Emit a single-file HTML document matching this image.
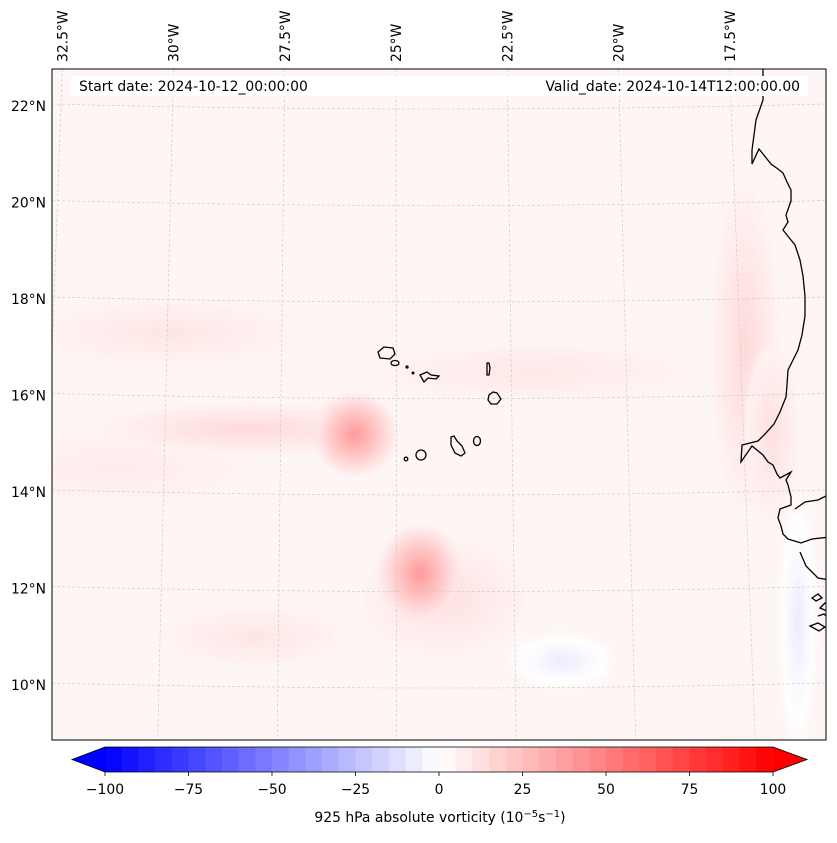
<!DOCTYPE html>
<html><head><meta charset="utf-8">
<style>
html,body{margin:0;padding:0;background:#fff;}
body{width:837px;height:839px;overflow:hidden;font-family:"DejaVu Sans","Liberation Sans",sans-serif;}
svg text{font-family:"DejaVu Sans","Liberation Sans",sans-serif;}
</style></head>
<body>
<svg id="fig" width="837" height="839" viewBox="0 0 837 839" xmlns="http://www.w3.org/2000/svg">
<defs>
  <clipPath id="mapclip"><rect x="52" y="69" width="774" height="671"/></clipPath>
  <filter id="blur3"><feGaussianBlur stdDeviation="2.5"/></filter>
</defs>
<g id="map" clip-path="url(#mapclip)">
  <rect x="52" y="69" width="774" height="671" fill="#fef5f5"/>
  <g id="field"></g>
  <g id="grid"></g>
  <g fill="none" stroke="#000" stroke-width="1.3">
    <path d="M763,69 L763,100 L756,120 L752,150 L752,164 L759,149 L771,164 L778,169 L783,173 L787,182 L791,190 L791,201 L786,215 L788,222 L783,230 L795,245 L800,260 L803,276 L805,296 L805,316 L802,335 L798,350 L788,370 L787,385 L786,397 L780,412 L774,424 L765,434 L758,441 L742,445 L741,462 L752,446 L763,455 L768,462 L773,465 L777,474 L780,478 L791,472 L786,480 L788,485 L791,497 L791,505 L780,509 L778,518 L781,526 L783,534 L788,539 L801,543 L812,539 L830,537"/>
    <path d="M795,509 L805,502 L818,500 L830,494"/>
    <path d="M800,552 L806,566 L812,572 L818,578 L830,580"/>
    <path d="M812,598 l6,-4 l4,4 l-6,3z M820,608 l5,-5 l5,3 l-3,5z M810,626 l8,-3 l7,4 l-6,4z M818,616 l6,-2 l4,4"/>
    <path d="M378,352 l6,-5 l9,1 l2,6 l-5,5 l-10,-1z"/>
    <ellipse cx="395" cy="363" rx="4" ry="2.5"/>
    <circle cx="407" cy="367" r="1"/>
    <circle cx="413" cy="373" r="0.8"/>
    <path d="M420,375 l7,-3 l4,3 l8,1 l-3,3 l-8,-1 l-4,4 z"/>
    <path d="M487,363 l2,0 l1,5 l-1,7 l-2,0 l0,-6z"/>
    <path d="M489,395 l4,-3 l4,1 l4,6 l-4,5 l-6,0 l-3,-4z"/>
    <ellipse cx="477" cy="441" rx="3.5" ry="4.5"/>
    <path d="M451,437 l3,-1 l3,5 l5,5 l3,7 l-4,3 l-6,-3 l-4,-8z"/>
    <circle cx="421" cy="455" r="5"/>
    <circle cx="406" cy="459" r="1.8"/>
  </g>
</g>
<rect x="52" y="69" width="774" height="671" fill="none" stroke="#000" stroke-width="1"/>
<rect x="71" y="76" width="737" height="20" fill="#fff"/>
<text x="79" y="91" font-size="13.9" fill="#000">Start date: 2024-10-12_00:00:00</text>
<text x="800" y="91" font-size="13.9" fill="#000" text-anchor="end">Valid_date: 2024-10-14T12:00:00.00</text>
<g id="lonlabels"></g>
<g id="latlabels"></g>
<g id="cbar"></g>
<text x="440" y="822" font-size="13.9" text-anchor="middle">925 hPa absolute vorticity (10<tspan font-size="10" dy="-5">−5</tspan><tspan dy="5">s</tspan><tspan font-size="10" dy="-5">−1</tspan><tspan dy="5">)</tspan></text>
</svg>
<script>
// ---- data ----
const lonTicks = ["32.5°W","30°W","27.5°W","25°W","22.5°W","20°W","17.5°W"];
const lonValues = [-32.5,-30,-27.5,-25,-22.5,-20,-17.5];
const latTicks = ["22°N","20°N","18°N","16°N","14°N","12°N","10°N"];
const latValues = [22,20,18,16,14,12,10];
const cbarTickValues = [-100,-75,-50,-25,0,25,50,75,100];
const cbarLevels = [-100,-95,-90,-85,-80,-75,-70,-65,-60,-55,-50,-45,-40,-35,-30,-25,-20,-15,-10,-5,0,5,10,15,20,25,30,35,40,45,50,55,60,65,70,75,80,85,90,95,100];
// vorticity features (broad first, peaks last): lon, lat, peak value, radius lon, radius lat
const featLon  = [-24.0,-28.0,-30.0,-22.0,-31.0,-21.5,-16.5,-17.4,-16.9,-28.2,-25.9,-24.5];
const featLat  = [11.8, 11.0, 17.3, 16.5, 14.5, 10.5, 11.3, 17.0, 15.2, 15.3, 15.2, 12.3];
const featVal  = [12,   10,   10,   9,    8,    -7,   -7,   14,   12,   14,   38,   38];
const featRx   = [1.2,  1.4,  2.0,  2.5,  2.0,  0.8,  0.3,  0.5,  0.4,  2.2,  0.6,  0.6];
const featRy   = [0.8,  0.4,  0.45, 0.4,  0.5,  0.4,  1.8,  2.2,  1.2,  0.35, 0.55, 0.65];
const bgValue = 4;

// ---- scales ----
function xLon(lon, y){
  const base = 396 + (lon + 25) * 44.5;
  const t = (y - 69) / 671;
  return base + (lon + 25.2) * 3.3 * t;
}
function yLat(lat){ return 106 + (22 - lat) * 48.25; }
function cbX(v){ return 105 + (v + 100) / 200 * 668; }
function bwr(v){
  const t = Math.max(-1, Math.min(1, v / 100));
  let r,g,b;
  if (t < 0){ r = 1 + t; g = 1 + t; b = 1; } else { r = 1; g = 1 - t; b = 1 - t; }
  return `rgb(${Math.round(r*255)},${Math.round(g*255)},${Math.round(b*255)})`;
}
const NS = "http://www.w3.org/2000/svg";
function mk(tag, attrs, parent){ const e = document.createElementNS(NS, tag); for (const k in attrs) e.setAttribute(k, attrs[k]); parent.appendChild(e); return e; }

// ---- field ----
const field = document.getElementById('field');
featLon.forEach((lon, i) => {
  const cy = yLat(featLat[i]);
  const cx = xLon(lon, cy);
  const rx = featRx[i] * 44.5, ry = featRy[i] * 48.25;
  const steps = 6;
  for (let s = 0; s < steps; s++) {
    const f = 1 - s / steps;
    const v = bgValue + (featVal[i] - bgValue) * (s + 1) / steps;
    const e = mk('ellipse', {cx, cy, rx: rx * f * 1.5, ry: ry * f * 1.5, fill: bwr(v), filter: 'url(#blur3)'}, field);
    
    
  }
});

// ---- grid ----
const grid = document.getElementById('grid');
lonValues.forEach(lon => {
  const l = mk('line', {x1: xLon(lon, 69), y1: 69, x2: xLon(lon, 740), y2: 740, stroke:'#c8c8c8', 'stroke-width':0.6, 'stroke-dasharray':'3,2'}, grid);
  
  
});
latValues.concat([24,8]).forEach(lat => {
  const y = yLat(lat);
  const p = mk('path', {d:`M52,${y-2} Q439,${y+8} 826,${y-2}`, fill:'none', stroke:'#c8c8c8', 'stroke-width':0.6, 'stroke-dasharray':'3,2'}, grid);
  
  
});

// ---- labels ----
const lonG = document.getElementById('lonlabels');
lonValues.forEach((lon, i) => {
  const x = xLon(lon, 69) + 5;
  const t = mk('text', {x:0, y:0, 'font-size':13.9, transform:`translate(${x},62) rotate(-90)`}, lonG);
  t.textContent = lonTicks[i];
  
  
});
const latG = document.getElementById('latlabels');
latValues.forEach((lat, i) => {
  const t = mk('text', {x:46, y:yLat(lat)+5, 'font-size':13.9, 'text-anchor':'end'}, latG);
  t.textContent = latTicks[i];
  
  
});

// ---- colorbar ----
const cb = document.getElementById('cbar');
const y0 = 747, y1 = 772;
const lo = mk('polygon', {points:`${cbX(-100)},${y0} ${cbX(-100)},${y1} 72,${(y0+y1)/2}`, fill:bwr(-100)}, cb);


const hi = mk('polygon', {points:`${cbX(100)},${y0} ${cbX(100)},${y1} 807,${(y0+y1)/2}`, fill:bwr(100)}, cb);


for (let i = 0; i < cbarLevels.length - 1; i++) {
  const a = cbarLevels[i], b = cbarLevels[i+1];
  const r = mk('rect', {x:cbX(a), y:y0, width:cbX(b)-cbX(a)+0.5, height:y1-y0, fill:bwr((a+b)/2)}, cb);
  
  
}
const out = mk('polygon', {points:`72,${(y0+y1)/2} ${cbX(-100)},${y0} ${cbX(100)},${y0} 807,${(y0+y1)/2} ${cbX(100)},${y1} ${cbX(-100)},${y1}`, fill:'none', stroke:'#000', 'stroke-width':0.8}, cb);


cbarTickValues.forEach(v => {
  const x = cbX(v);
  const tk = mk('line', {x1:x, y1:y1, x2:x, y2:y1+4, stroke:'#000', 'stroke-width':0.8}, cb);
  
  
  const t = mk('text', {x:x, y:794, 'font-size':13.9, 'text-anchor':'middle'}, cb);
  t.textContent = v < 0 ? '−' + Math.abs(v) : String(v);
  
  
});
</script>
</body></html>
